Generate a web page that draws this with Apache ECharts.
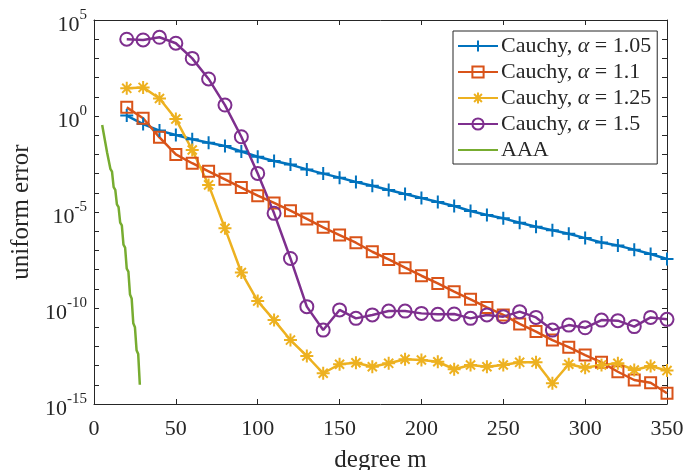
<!DOCTYPE html>
<html>
<head>
<meta charset="utf-8">
<script src="https://cdn.jsdelivr.net/npm/echarts@6/dist/echarts.min.js"></script>
<style>
    html, body { margin: 0; padding: 0; background: #fff; }
    #chart-one { width: 685px; height: 470px; }
</style>
</head>
<body>
<div id="chart-one"></div>
<script>
// degree m for the Cauchy runs
const degrees = [20, 30, 40, 50, 60, 70, 80, 90, 100, 110, 120, 130, 140, 150, 160, 170, 180,
    190, 200, 210, 220, 230, 240, 250, 260, 270, 280, 290, 300, 310, 320, 330, 340, 350];

// log10 of uniform error
const cauchy105 = [0.02, -0.42, -0.76, -0.99, -1.21, -1.39, -1.56, -1.85, -2.12, -2.34, -2.53, -2.78,
    -3.0, -3.21, -3.44, -3.63, -3.85, -4.06, -4.27, -4.48, -4.69, -4.95, -5.16, -5.33, -5.56, -5.77,
    -5.95, -6.13, -6.36, -6.59, -6.75, -6.96, -7.19, -7.45];
const cauchy11 = [0.45, -0.12, -1.11, -2.0, -2.46, -2.88, -3.30, -3.73, -4.15, -4.53, -4.93, -5.36,
    -5.80, -6.20, -6.6, -7.07, -7.47, -7.90, -8.32, -8.72, -9.15, -9.55, -9.97, -10.36, -10.83, -11.23,
    -11.67, -12.04, -12.45, -12.83, -13.32, -13.75, -13.89, -14.44];
const cauchy125 = [1.44, 1.49, 0.91, -0.16, -1.77, -3.59, -5.85, -8.15, -9.64, -10.63, -11.67, -12.5,
    -13.40, -12.93, -12.85, -13.06, -12.88, -12.67, -12.71, -12.80, -13.19, -12.97, -13.06, -12.97,
    -12.83, -12.83, -13.92, -12.93, -13.11, -12.97, -12.88, -13.23, -13.02, -13.26];
const cauchy15 = [4.0, 3.96, 4.10, 3.79, 3.0, 1.93, 0.57, -1.08, -2.99, -5.07, -7.42, -9.93, -11.15,
    -10.1, -10.54, -10.36, -10.16, -10.16, -10.28, -10.33, -10.31, -10.54, -10.36, -10.45, -10.19,
    -10.49, -11.15, -10.89, -11.03, -10.63, -10.66, -10.97, -10.49, -10.59];

const aaaDegrees = [5, 6, 7, 8, 9, 10, 11, 12, 13, 14, 15, 16, 17, 18, 19, 20, 21, 22, 23, 24, 25, 26, 27, 28];
const aaaErr = [-0.47, -0.95, -1.05, -1.9, -2.0, -2.75, -2.9, -3.7, -3.85, -4.6, -4.75, -5.55, -5.7,
    -6.7, -6.85, -7.95, -8.1, -9.3, -9.5, -10.8, -11.0, -12.2, -12.4, -14.0];

const xTicks = [0, 50, 100, 150, 200, 250, 300, 350];
const yLabelPowers = [-15, -10, -5, 0, 5];

const seriesNames = ['Cauchy, α = 1.05', 'Cauchy, α = 1.1', 'Cauchy, α = 1.25', 'Cauchy, α = 1.5', 'AAA'];
const colors = ['#0072BD', '#D95319', '#EDB120', '#7E2F8E', '#77AC30'];

const FONT = 'Liberation Serif';
const INK = '#262626';
const CLEAR = 'rgba(255,255,255,0)';

const PLUS = 'path://M5,0L5,10M0,5L10,5';
const STAR = 'path://M5,0L5,10M0,5L10,5M1.5,1.5L8.5,8.5M1.5,8.5L8.5,1.5';

function pairs(xs, ys) {
    return xs.map((x, i) => [x, ys[i]]);
}

function markerSeries(name, color, values, symbol, size) {
    return {
        name: name,
        type: 'line',
        data: pairs(degrees, values),
        symbol: symbol,
        symbolSize: size,
        showAllSymbol: true,
        color: color,
        lineStyle: { color: color, width: 2.5 },
        itemStyle: { color: CLEAR, borderColor: color, borderWidth: 2 },
        emphasis: { disabled: true },
        animation: false
    };
}

function boxAxis(type, pos, show) {
    let ax = {
        type: 'value',
        position: pos,
        axisLine: { show: true, onZero: false, lineStyle: { color: INK, width: 1 } },
        axisTick: { show: true, inside: true, length: 5, lineStyle: { color: INK } },
        splitLine: { show: false },
        axisLabel: { show: show }
    };
    if (type === 'x') {
        ax.min = 0; ax.max = 350; ax.interval = 50;
    } else {
        ax.min = -15; ax.max = 5; ax.interval = 1;
    }
    return ax;
}

function drawChart() {
    let myChart = echarts.init(document.getElementById('chart-one'), null, { renderer: 'canvas' });

    let xBottom = boxAxis('x', 'bottom', true);
    xBottom.name = 'degree m';
    xBottom.nameLocation = 'middle';
    xBottom.nameGap = 44;
    xBottom.nameTextStyle = { fontFamily: FONT, fontSize: 25, color: INK };
    xBottom.axisLabel = {
        show: true, fontFamily: FONT, fontSize: 22, color: INK, margin: 14,
        formatter: v => xTicks.indexOf(v) >= 0 ? String(v) : ''
    };

    let yLeft = boxAxis('y', 'left', true);
    yLeft.name = 'uniform error';
    yLeft.nameLocation = 'middle';
    yLeft.nameGap = 57;
    yLeft.nameTextStyle = { fontFamily: FONT, fontSize: 25, color: INK };
    // "10" sits a little under the tick, exponent raised above it
    yLeft.axisLabel = {
        show: true, margin: 7, color: INK,
        formatter: v => yLabelPowers.indexOf(Math.round(v)) >= 0 ? '{b|10}{s|' + Math.round(v) + '}' : '',
        rich: {
            b: { fontFamily: FONT, fontSize: 22, color: INK, padding: [10, 0, 0, 0] },
            s: { fontFamily: FONT, fontSize: 15, color: INK, padding: [0, 0, 9, 0] }
        }
    };

    let option = {
        backgroundColor: '#fff',
        animation: false,
        grid: { left: 94, right: 18, top: 20, bottom: 66, containLabel: false, outerBoundsMode: 'none' },
        xAxis: [xBottom, boxAxis('x', 'top', false)],
        yAxis: [yLeft, boxAxis('y', 'right', false)],
        legend: {
            orient: 'vertical',
            left: 453,
            top: 31,
            padding: [4, 6, 3, 4],
            itemWidth: 40,
            itemHeight: 14,
            itemGap: 4,
            backgroundColor: '#fff',
            borderColor: INK,
            borderWidth: 1,
            borderRadius: 0,
            data: seriesNames,
            formatter: name => name.replace('α', '{i|α}'),
            textStyle: {
                fontFamily: FONT, fontSize: 22, color: INK, padding: [0, 0, 0, -2],
                rich: { i: { fontFamily: FONT, fontSize: 22, fontStyle: 'italic', color: INK } }
            }
        },
        series: [
            markerSeries(seriesNames[0], colors[0], cauchy105, PLUS, 13),
            markerSeries(seriesNames[1], colors[1], cauchy11, 'rect', 11),
            markerSeries(seriesNames[2], colors[2], cauchy125, STAR, 13),
            markerSeries(seriesNames[3], colors[3], cauchy15, 'circle', 13),
            {
                name: seriesNames[4],
                type: 'line',
                data: pairs(aaaDegrees, aaaErr),
                symbol: 'circle',
                showSymbol: false,
                color: colors[4],
                lineStyle: { color: colors[4], width: 2.5 },
                itemStyle: { color: CLEAR, borderWidth: 0 },
                emphasis: { disabled: true },
                animation: false
            }
        ]
    };

    myChart.setOption(option);
}

drawChart();
</script>
</body>
</html>
